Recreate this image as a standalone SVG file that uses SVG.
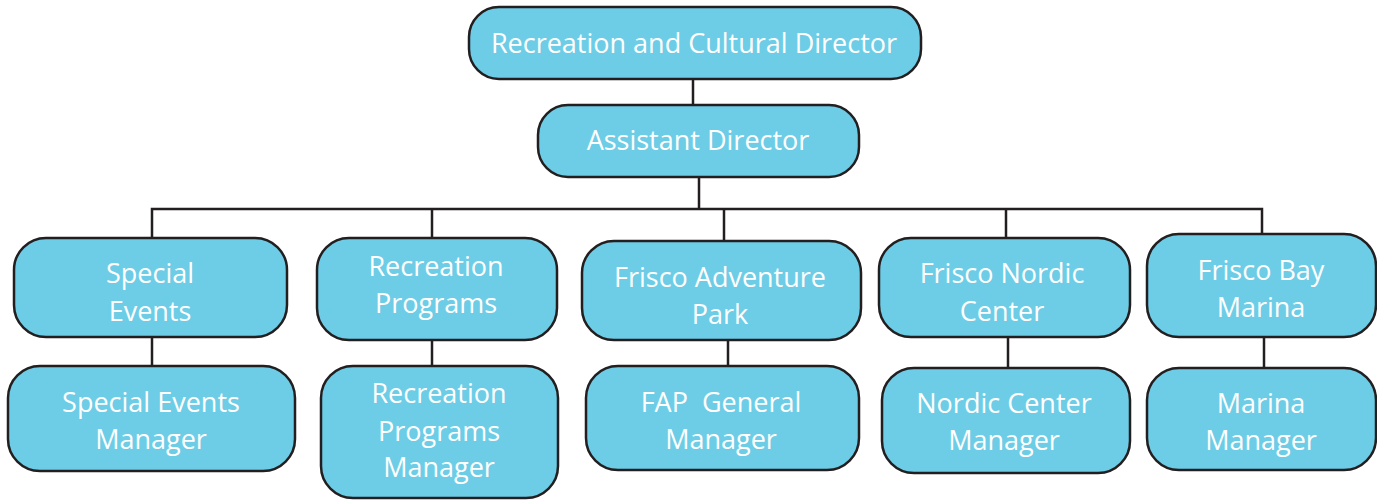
<svg xmlns="http://www.w3.org/2000/svg" width="1377" height="500" viewBox="0 0 1377 500">
  <style>
    .box { fill: #6dcde6; stroke: #231f20; stroke-width: 2.5; }
    .lbl { fill: #ffffff; font-family: "Open Sans", "Noto Sans", sans-serif; font-size: 27px; text-anchor: middle; }
    .wire { fill: none; stroke: #231f20; stroke-width: 2.5; }
  </style>
  <rect width="1377" height="500" fill="#ffffff"/>

  <!-- connectors -->
  <g id="connectors">
    <line class="wire" x1="693" y1="79" x2="693" y2="105"/>
    <line class="wire" x1="699" y1="177" x2="699" y2="210"/>
    <polyline class="wire" points="152,238 152,209 1262,209 1262,233"/>
    <line class="wire" x1="432" y1="209" x2="432" y2="238"/>
    <line class="wire" x1="724" y1="209" x2="724" y2="241"/>
    <line class="wire" x1="1006" y1="209" x2="1006" y2="238"/>
    <line class="wire" x1="152" y1="337" x2="152" y2="366"/>
    <line class="wire" x1="432" y1="340" x2="432" y2="366"/>
    <line class="wire" x1="728" y1="340" x2="728" y2="366"/>
    <line class="wire" x1="1008" y1="337" x2="1008" y2="368"/>
    <line class="wire" x1="1264" y1="337" x2="1264" y2="368"/>
  </g>

  <g id="director">
    <rect class="box" x="469" y="7" width="452" height="72" rx="30"/>
    <text class="lbl" x="694" y="53">Recreation and Cultural Director</text>
  </g>
  <g id="assistant-director">
    <rect class="box" x="538" y="105" width="321" height="72" rx="30"/>
    <text class="lbl" x="698" y="150">Assistant Director</text>
  </g>

  <g id="special-events">
    <rect class="box" x="14" y="238" width="273" height="99" rx="32"/>
    <text class="lbl" x="150" y="283">Special</text>
    <text class="lbl" x="150" y="321">Events</text>
  </g>
  <g id="special-events-manager">
    <rect class="box" x="8" y="366" width="287" height="105" rx="32"/>
    <text class="lbl" x="151" y="412">Special Events</text>
    <text class="lbl" x="151" y="449">Manager</text>
  </g>

  <g id="recreation-programs">
    <rect class="box" x="317" y="238" width="240" height="102" rx="32"/>
    <text class="lbl" x="436" y="276">Recreation</text>
    <text class="lbl" x="436" y="313">Programs</text>
  </g>
  <g id="recreation-programs-manager">
    <rect class="box" x="321" y="366" width="237" height="132" rx="32"/>
    <text class="lbl" x="439" y="403">Recreation</text>
    <text class="lbl" x="439" y="441">Programs</text>
    <text class="lbl" x="439" y="477">Manager</text>
  </g>

  <g id="frisco-adventure-park">
    <rect class="box" x="582" y="241" width="279" height="99" rx="32"/>
    <text class="lbl" x="720" y="287">Frisco Adventure</text>
    <text class="lbl" x="720" y="324">Park</text>
  </g>
  <g id="fap-general-manager">
    <rect class="box" x="586" y="366" width="273" height="104" rx="32"/>
    <text class="lbl" x="721" y="412" xml:space="preserve">FAP  General</text>
    <text class="lbl" x="721" y="449">Manager</text>
  </g>

  <g id="frisco-nordic-center">
    <rect class="box" x="879" y="238" width="251" height="99" rx="32"/>
    <text class="lbl" x="1002" y="283">Frisco Nordic</text>
    <text class="lbl" x="1002" y="321">Center</text>
  </g>
  <g id="nordic-center-manager">
    <rect class="box" x="882" y="368" width="248" height="105" rx="32"/>
    <text class="lbl" x="1004" y="413">Nordic Center</text>
    <text class="lbl" x="1004" y="450">Manager</text>
  </g>

  <g id="frisco-bay-marina">
    <rect class="box" x="1147" y="234" width="229" height="103" rx="32"/>
    <text class="lbl" x="1261" y="280">Frisco Bay</text>
    <text class="lbl" x="1261" y="317">Marina</text>
  </g>
  <g id="marina-manager">
    <rect class="box" x="1147" y="368" width="229" height="102" rx="32"/>
    <text class="lbl" x="1261" y="413">Marina</text>
    <text class="lbl" x="1261" y="450">Manager</text>
  </g>
</svg>
